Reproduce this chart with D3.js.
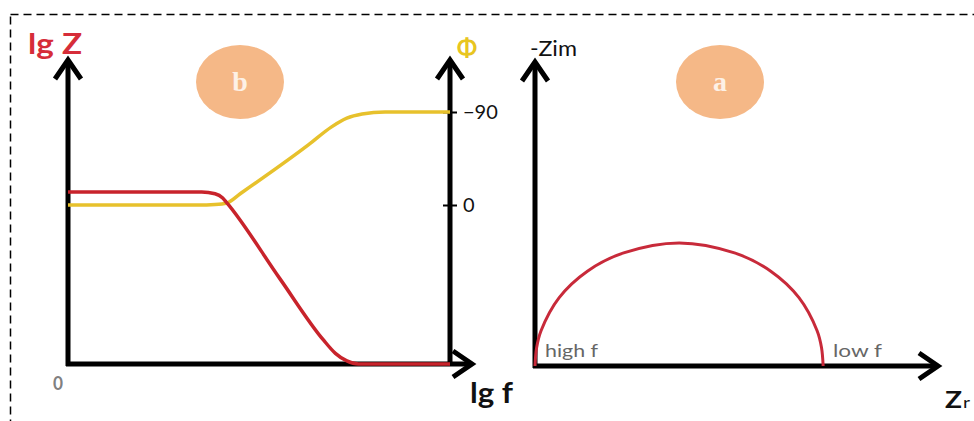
<!DOCTYPE html>
<html>
<head>
<meta charset="utf-8">
<script src="https://cdn.jsdelivr.net/npm/d3@7"></script>
<style>
  body { margin: 0; background: #fff; }
  svg { display: block; font-family: Lato, "Open Sans", sans-serif; }
</style>
</head>
<body>
<div id="canvas"></div>
<script>

	var width = 974;
	var height = 421;

	// bode plot (b)
	var lgfRed = [0, 3.5, 3.85, 4.05, 4.16, 5.55, 6.68, 7.0, 7.3, 7.6, 10];
	var lgZ = [5.66, 5.66, 5.6, 5.46, 5.3, 2.8, 0.8, 0.35, 0.1, 0, 0];
	var lgfPhase = [0, 3.4, 3.85, 4.16, 4.5, 6.3, 6.9, 7.3, 7.7, 8.3, 10];
	var phase = [0, 0, -0.5, -2, -10.7, -58.4, -75.6, -84, -88, -90, -90];
	var phaseTicks = [0, -90];

	// nyquist plot (a)
	var nyqRe = [0, 0.04, 0.15, 0.6, 1.3, 2.2, 3.58, 4.95, 5.85, 6.55, 7.0, 7.11, 7.15];
	var nyqIm = [0, 0.6, 1.16, 2.25, 3.12, 3.72, 4.05, 3.72, 3.12, 2.25, 1.16, 0.6, 0];

	var svgContainer = d3.select("#canvas").append("svg")
						.attr("width", width)
						.attr("height", height);

	// dashed frame, runs off the right and bottom edge
	svgContainer.append("rect")
		.attr("x", 10.5).attr("y", 14.5)
		.attr("width", 1000).attr("height", 500)
		.attr("fill", "none")
		.attr("stroke", "#000")
		.attr("stroke-width", 1.5)
		.attr("stroke-dasharray", "8,5");

	// scales
	var x = d3.scaleLinear().domain([0, 10]).range([68, 450]);
	var yZ = d3.scaleLinear().domain([0, 10]).range([364, 60]);
	var yPhi = d3.scaleLinear().domain([0, -90]).range([205, 112]);
	var xRe = d3.scaleLinear().domain([0, 10]).range([535, 938]);
	var yIm = d3.scaleLinear().domain([0, 10]).range([366, 62]);


function arrowUp(xp, yp){
	svgContainer.append("path")
		.attr("d", "M" + (xp - 13) + "," + (yp + 19) + "L" + xp + "," + yp + "L" + (xp + 13) + "," + (yp + 19))
		.attr("fill", "none").attr("stroke", "#000").attr("stroke-width", 5);
}

function arrowRight(xp, yp){
	svgContainer.append("path")
		.attr("d", "M" + (xp - 19) + "," + (yp - 13) + "L" + xp + "," + yp + "L" + (xp - 19) + "," + (yp + 13))
		.attr("fill", "none").attr("stroke", "#000").attr("stroke-width", 5);
}

function axisLine(x1, y1, x2, y2){
	svgContainer.append("line")
		.attr("x1", x1).attr("y1", y1).attr("x2", x2).attr("y2", y2)
		.attr("stroke", "#000").attr("stroke-width", 5);
}

function label(txt, xp, yp, size, color, weight, len){
	var t = svgContainer.append("text")
		.attr("x", xp).attr("y", yp)
		.attr("font-size", size)
		.attr("fill", color)
		.attr("font-weight", weight)
		.text(txt);
	if (len) t.attr("textLength", len).attr("lengthAdjust", "spacingAndGlyphs");
	return t;
}

function badge(cx, cy, letter){
	svgContainer.append("ellipse")
		.attr("cx", cx).attr("cy", cy).attr("rx", 44).attr("ry", 37)
		.attr("fill", "#f5b887");
	svgContainer.append("text")
		.attr("x", cx).attr("y", cy + 9)
		.attr("text-anchor", "middle")
		.attr("font-family", "'Liberation Serif', serif")
		.attr("font-weight", "bold")
		.attr("font-size", 28)
		.attr("fill", "#fdf1e6")
		.text(letter);
}


function drawBode(){

	badge(240, 82, "b");

	// axes
	axisLine(x(0), yZ(0) + 2, x(0), yZ.range()[1] + 2);
	arrowUp(x(0), yZ.range()[1]);
	axisLine(x(10), yZ(0) + 2, x(10), yZ.range()[1] + 2);
	arrowUp(x(10), yZ.range()[1]);
	axisLine(x(0) - 2, yZ(0), x.range()[1] + 20, yZ(0));
	arrowRight(x.range()[1] + 22, yZ(0));

	// phase ticks on the right axis
	var ax = svgContainer.append("g")
		.attr("transform", "translate(" + x(10) + ",0)")
		.call(d3.axisRight(yPhi).tickValues(phaseTicks).tickSize(7).tickFormat(d3.format("d")));
	ax.select(".domain").remove();
	ax.selectAll(".tick line").attr("x1", -7).attr("stroke-width", 2);
	ax.selectAll(".tick text")
		.attr("x", 13)
		.attr("font-size", 20)
		.attr("font-family", "Lato, sans-serif")
		.attr("fill", "#111");

	var zLine = d3.line()
		.x(function(d, i){ return x(lgfRed[i]); })
		.y(function(d){ return yZ(d); })
		.curve(d3.curveMonotoneX);

	var phiLine = d3.line()
		.x(function(d, i){ return x(lgfPhase[i]); })
		.y(function(d){ return yPhi(d); })
		.curve(d3.curveMonotoneX);

	svgContainer.append("path")
		.attr("d", phiLine(phase))
		.attr("fill", "none").attr("stroke", "#e7c12c").attr("stroke-width", 3.5);

	svgContainer.append("path")
		.attr("d", zLine(lgZ))
		.attr("fill", "none").attr("stroke", "#c8232b").attr("stroke-width", 3.5);

	// titles
	label("lg Z", 28, 54, 28, "#d62d39", "bold", 54);
	label("\u03A6", 467, 57, 24, "#e8c520", "bold").attr("text-anchor", "middle");
	label("0", 53, 390, 18, "#808080", "bold", 10);
	label("lg f", 470, 403, 29, "#111", "bold", 43);
}


function drawNyquist(){

	badge(720, 82, "a");

	axisLine(xRe(0), yIm(0) + 2, xRe(0), yIm.range()[1] + 2);
	arrowUp(xRe(0), yIm.range()[1]);
	axisLine(xRe(0) - 2, yIm(0), xRe.range()[1] - 2, yIm(0));
	arrowRight(xRe.range()[1], yIm(0));

	var arc = d3.line()
		.x(function(d, i){ return xRe(nyqRe[i]); })
		.y(function(d){ return yIm(d); })
		.curve(d3.curveCatmullRom);

	svgContainer.append("path")
		.attr("d", arc(nyqIm))
		.attr("fill", "none").attr("stroke", "#c82a3a").attr("stroke-width", 3);

	label("-Zim", 530, 56, 21, "#111", "normal", 47);
	label("high f", 545, 357, 17, "#666", "normal", 53);
	label("low f", 833, 357, 17, "#666", "normal", 49);
	label("Z", 945, 408, 22, "#111", "bold", 17);
	label("r", 963, 408, 15, "#111", "normal", 7);
}

drawBode();
drawNyquist();

</script>
</body>
</html>
